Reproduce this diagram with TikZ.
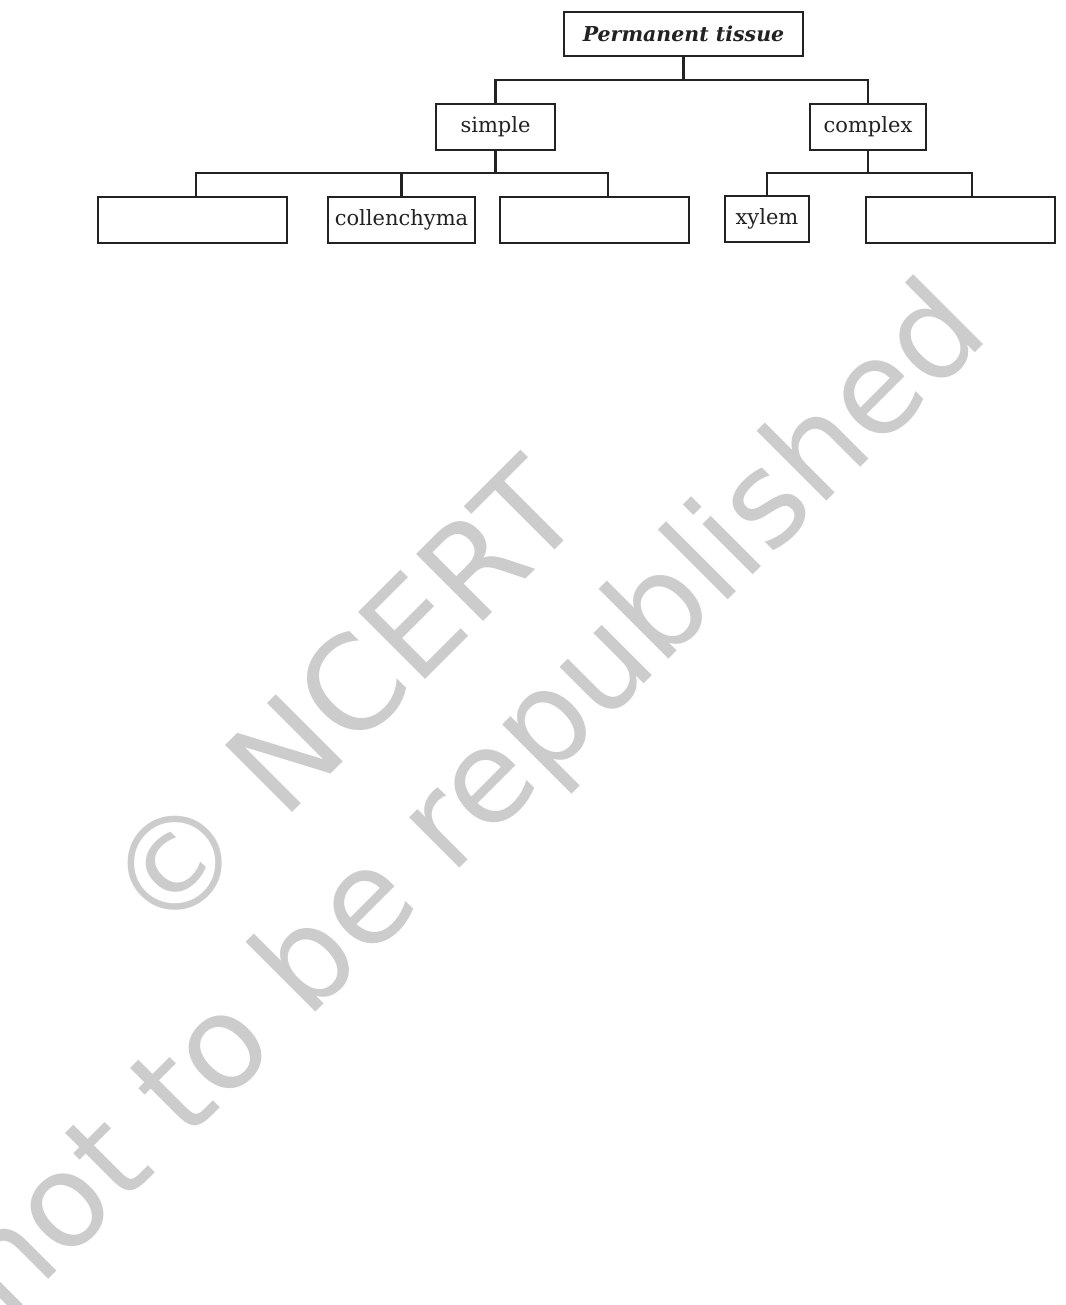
\documentclass[tikz,border=0pt]{standalone}
\usepackage{fontspec}
\newfontfamily\wmfont{DejaVu Sans}
\newfontfamily\boxfont{DejaVu Serif}
\usetikzlibrary{calc}
\definecolor{ink}{HTML}{222222}
\definecolor{wmgray}{HTML}{CCCCCC}
\begin{document}
\begin{tikzpicture}[x=1pt,y=1pt,
  box/.style={draw=ink,line width=2.6pt,inner sep=0pt,text=ink,font=\boxfont\fontsize{21}{25}\selectfont},
  conn/.style={draw=ink,line width=2.6pt,line join=miter},
  wm/.style={text=wmgray,font=\wmfont\fontsize{130}{130}\selectfont,rotate=45,anchor=base,inner sep=0pt}]
\useasboundingbox[fill=white] (0,0) rectangle (1065,-1305);
% watermark
\node[wm] (wm1) at (375,-730) {© NCERT};
\node[wm] (wm2) at (499,-829) {not to be republished};
% boxes
\node[box,font=\boxfont\fontsize{20.5}{25}\selectfont\bfseries\itshape,minimum width=239pt,minimum height=44pt] (perm) at (683.5,-34) {Permanent tissue};
\node[box,minimum width=119pt,minimum height=46pt] (simple) at (495.5,-127) {simple};
\node[box,minimum width=116pt,minimum height=46pt] (complex) at (868,-127) {complex};
\node[box,minimum width=189pt,minimum height=46pt] (b1) at (192.5,-220) {};
\node[box,minimum width=147pt,minimum height=46pt] (coll) at (401.5,-220) {collenchyma};
\node[box,minimum width=189pt,minimum height=46pt] (b3) at (594.5,-220) {};
\node[box,minimum width=84pt,minimum height=46pt] (xylem) at (767,-219) {xylem};
\node[box,minimum width=189pt,minimum height=46pt] (b5) at (960.5,-220) {};
% connectors
\coordinate (j0) at (683.5,-80);
\coordinate (j1) at (495.5,-173);
\coordinate (j2) at (868,-173);
\draw[conn] (perm.south) -- (j0);
\draw[conn] (simple.north) |- (j0) -| (complex.north);
\draw[conn] (simple.south) -- (j1);
\draw[conn] ($(b1.north)+(3.5,0)$) |- (j1) -| ($(b3.north)+(13.5,0)$);
\draw[conn] (coll.north) -- (coll.north |- j1);
\draw[conn] (complex.south) -- (j2);
\draw[conn] (xylem.north) |- (j2) -| ($(b5.north)+(11.5,0)$);
\end{tikzpicture}
\end{document}
